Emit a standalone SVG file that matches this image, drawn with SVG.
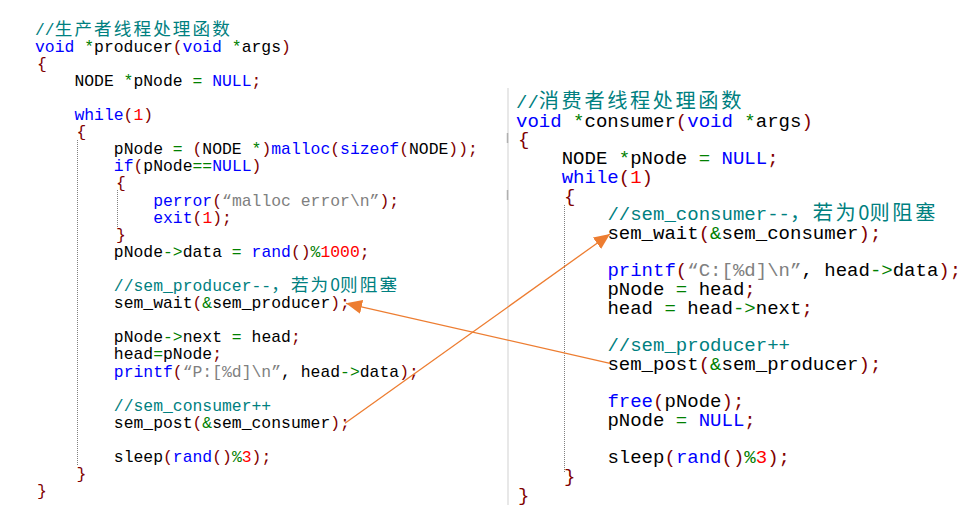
<svg xmlns="http://www.w3.org/2000/svg" width="974" height="507" viewBox="0 0 974 507">
<defs>
<style>
text{font-family:"Liberation Mono","Noto Sans CJK SC",monospace;white-space:pre}
.L{font-size:16.4px}
.R{font-size:19.03px}
.zL{font-size:17.6px;letter-spacing:2.1px;font-family:"Noto Sans CJK SC",sans-serif}
.zR{font-size:20.2px;letter-spacing:2.6px;font-family:"Noto Sans CJK SC",sans-serif}
.d0{letter-spacing:0}
.k{fill:#0000FF}.i{fill:#000000}.c{fill:#008080}.p{fill:#800000}.o{fill:#008000}.n{fill:#FF0000}.s{fill:#808080}
.guide{stroke:#808080;stroke-width:1;stroke-dasharray:1 1;fill:none}
.arr{stroke:#ED7D31;stroke-width:1.3;fill:none;marker-end:url(#ah)}
</style>
<marker id="ah" markerUnits="userSpaceOnUse" markerWidth="18" markerHeight="16" refX="16" refY="7" orient="auto">
<path d="M0,0 L16,7 L0,14 Z" fill="#ED7D31"/>
</marker>
</defs>
<rect width="974" height="507" fill="#ffffff"/>
<g id="gutter">
<line x1="508" y1="88" x2="508" y2="505" stroke="#e8e8e8" stroke-width="2"/>
<line x1="507.5" y1="133" x2="507.5" y2="143" stroke="#b0b0b0" stroke-width="1.5"/>
<line x1="507.5" y1="190" x2="507.5" y2="200" stroke="#b0b0b0" stroke-width="1.5"/>
</g>
<g id="producer">
<line class="guide" x1="77.5" y1="140" x2="77.5" y2="466"/>
<line class="guide" x1="117.5" y1="190" x2="117.5" y2="227"/>
<text class="L" xml:space="preserve" x="35" y="34.5"><tspan class="c">//</tspan><tspan class="c zL">生产者线程处理函数</tspan></text>
<text class="L" xml:space="preserve" x="35" y="51.6"><tspan class="k">void</tspan><tspan class="i"> </tspan><tspan class="o">*</tspan><tspan class="i">producer</tspan><tspan class="p">(</tspan><tspan class="k">void</tspan><tspan class="i"> </tspan><tspan class="o">*</tspan><tspan class="i">args</tspan><tspan class="p">)</tspan></text>
<text class="L p" x="37" y="68.7">{</text>
<text class="L" xml:space="preserve" x="74.4" y="85.8"><tspan class="i">NODE </tspan><tspan class="o">*</tspan><tspan class="i">pNode </tspan><tspan class="o">=</tspan><tspan class="i"> </tspan><tspan class="k">NULL</tspan><tspan class="p">;</tspan></text>
<text class="L" xml:space="preserve" x="74.4" y="120"><tspan class="k">while</tspan><tspan class="p">(</tspan><tspan class="n">1</tspan><tspan class="p">)</tspan></text>
<text class="L p" x="76.5" y="137.1">{</text>
<text class="L" xml:space="preserve" x="113.8" y="154.2"><tspan class="i">pNode </tspan><tspan class="o">=</tspan><tspan class="i"> </tspan><tspan class="p">(</tspan><tspan class="i">NODE </tspan><tspan class="o">*</tspan><tspan class="p">)</tspan><tspan class="k">malloc</tspan><tspan class="p">(</tspan><tspan class="k">sizeof</tspan><tspan class="p">(</tspan><tspan class="i">NODE</tspan><tspan class="p">));</tspan></text>
<text class="L" xml:space="preserve" x="113.8" y="171.3"><tspan class="k">if</tspan><tspan class="p">(</tspan><tspan class="i">pNode</tspan><tspan class="o">==</tspan><tspan class="k">NULL</tspan><tspan class="p">)</tspan></text>
<text class="L p" x="116" y="188.4">{</text>
<text class="L" xml:space="preserve" x="153.2" y="205.5"><tspan class="k">perror</tspan><tspan class="p">(</tspan><tspan class="s">“malloc error\n”</tspan><tspan class="p">);</tspan></text>
<text class="L" xml:space="preserve" x="153.2" y="222.6"><tspan class="k">exit</tspan><tspan class="p">(</tspan><tspan class="n">1</tspan><tspan class="p">);</tspan></text>
<text class="L p" x="116" y="239.7">}</text>
<text class="L" xml:space="preserve" x="113.8" y="256.8"><tspan class="i">pNode</tspan><tspan class="o">-&gt;</tspan><tspan class="i">data </tspan><tspan class="o">=</tspan><tspan class="i"> </tspan><tspan class="k">rand</tspan><tspan class="p">()</tspan><tspan class="o">%</tspan><tspan class="n">1000</tspan><tspan class="p">;</tspan></text>
<text class="L" xml:space="preserve" x="113.8" y="291"><tspan class="c">//sem_producer--</tspan><tspan class="c zL">，若为</tspan><tspan class="c zL d0">0</tspan><tspan class="c zL">则阻塞</tspan></text>
<text class="L" xml:space="preserve" x="113.8" y="308.1"><tspan class="i">sem_wait</tspan><tspan class="p">(</tspan><tspan class="o">&amp;</tspan><tspan class="i">sem_producer</tspan><tspan class="p">);</tspan></text>
<text class="L" xml:space="preserve" x="113.8" y="342.3"><tspan class="i">pNode</tspan><tspan class="o">-&gt;</tspan><tspan class="i">next </tspan><tspan class="o">=</tspan><tspan class="i"> head</tspan><tspan class="p">;</tspan></text>
<text class="L" xml:space="preserve" x="113.8" y="359.4"><tspan class="i">head</tspan><tspan class="o">=</tspan><tspan class="i">pNode</tspan><tspan class="p">;</tspan></text>
<text class="L" xml:space="preserve" x="113.8" y="376.5"><tspan class="k">printf</tspan><tspan class="p">(</tspan><tspan class="s">“P:[%d]\n”</tspan><tspan class="i">, head</tspan><tspan class="o">-&gt;</tspan><tspan class="i">data</tspan><tspan class="p">);</tspan></text>
<text class="L c" xml:space="preserve" x="113.8" y="410.7">//sem_consumer++</text>
<text class="L" xml:space="preserve" x="113.8" y="427.8"><tspan class="i">sem_post</tspan><tspan class="p">(</tspan><tspan class="o">&amp;</tspan><tspan class="i">sem_consumer</tspan><tspan class="p">);</tspan></text>
<text class="L" xml:space="preserve" x="113.8" y="462"><tspan class="i">sleep</tspan><tspan class="p">(</tspan><tspan class="k">rand</tspan><tspan class="p">()</tspan><tspan class="o">%</tspan><tspan class="n">3</tspan><tspan class="p">);</tspan></text>
<text class="L p" x="76.5" y="479.1">}</text>
<text class="L p" x="37" y="496.2">}</text>
</g>
<g id="consumer">
<line class="guide" x1="564.5" y1="205" x2="564.5" y2="472"/>
<text class="R" xml:space="preserve" x="516" y="108"><tspan class="c">//</tspan><tspan class="c zR">消费者线程处理函数</tspan></text>
<text class="R" xml:space="preserve" x="516" y="126.7"><tspan class="k">void</tspan><tspan class="i"> </tspan><tspan class="o">*</tspan><tspan class="i">consumer</tspan><tspan class="p">(</tspan><tspan class="k">void</tspan><tspan class="i"> </tspan><tspan class="o">*</tspan><tspan class="i">args</tspan><tspan class="p">)</tspan></text>
<text class="R p" x="518" y="145.4">{</text>
<text class="R" xml:space="preserve" x="561.7" y="164.1"><tspan class="i">NODE </tspan><tspan class="o">*</tspan><tspan class="i">pNode </tspan><tspan class="o">=</tspan><tspan class="i"> </tspan><tspan class="k">NULL</tspan><tspan class="p">;</tspan></text>
<text class="R" xml:space="preserve" x="561.7" y="182.8"><tspan class="k">while</tspan><tspan class="p">(</tspan><tspan class="n">1</tspan><tspan class="p">)</tspan></text>
<text class="R p" x="564" y="201.5">{</text>
<text class="R" xml:space="preserve" x="607.4" y="220.2"><tspan class="c">//sem_consumer--</tspan><tspan class="c zR">，若为</tspan><tspan class="c zR d0">0</tspan><tspan class="c zR">则阻塞</tspan></text>
<text class="R" xml:space="preserve" x="607.4" y="238.9"><tspan class="i">sem_wait</tspan><tspan class="p">(</tspan><tspan class="o">&amp;</tspan><tspan class="i">sem_consumer</tspan><tspan class="p">);</tspan></text>
<text class="R" xml:space="preserve" x="607.4" y="276.3"><tspan class="k">printf</tspan><tspan class="p">(</tspan><tspan class="s">“C:[%d]\n”</tspan><tspan class="i">, head</tspan><tspan class="o">-&gt;</tspan><tspan class="i">data</tspan><tspan class="p">);</tspan></text>
<text class="R" xml:space="preserve" x="607.4" y="295"><tspan class="i">pNode </tspan><tspan class="o">=</tspan><tspan class="i"> head</tspan><tspan class="p">;</tspan></text>
<text class="R" xml:space="preserve" x="607.4" y="313.7"><tspan class="i">head </tspan><tspan class="o">=</tspan><tspan class="i"> head</tspan><tspan class="o">-&gt;</tspan><tspan class="i">next</tspan><tspan class="p">;</tspan></text>
<text class="R c" xml:space="preserve" x="607.4" y="351.1">//sem_producer++</text>
<text class="R" xml:space="preserve" x="607.4" y="369.8"><tspan class="i">sem_post</tspan><tspan class="p">(</tspan><tspan class="o">&amp;</tspan><tspan class="i">sem_producer</tspan><tspan class="p">);</tspan></text>
<text class="R" xml:space="preserve" x="607.4" y="407.2"><tspan class="k">free</tspan><tspan class="p">(</tspan><tspan class="i">pNode</tspan><tspan class="p">);</tspan></text>
<text class="R" xml:space="preserve" x="607.4" y="425.9"><tspan class="i">pNode </tspan><tspan class="o">=</tspan><tspan class="i"> </tspan><tspan class="k">NULL</tspan><tspan class="p">;</tspan></text>
<text class="R" xml:space="preserve" x="607.4" y="463.3"><tspan class="i">sleep</tspan><tspan class="p">(</tspan><tspan class="k">rand</tspan><tspan class="p">()</tspan><tspan class="o">%</tspan><tspan class="n">3</tspan><tspan class="p">);</tspan></text>
<text class="R p" x="564" y="482">}</text>
<text class="R p" x="518" y="500.7">}</text>
</g>
<g id="connectors">
<line class="arr" x1="610" y1="363.3" x2="346" y2="303.3"/>
<line class="arr" x1="345" y1="423.3" x2="610" y2="234"/>
</g>
</svg>
